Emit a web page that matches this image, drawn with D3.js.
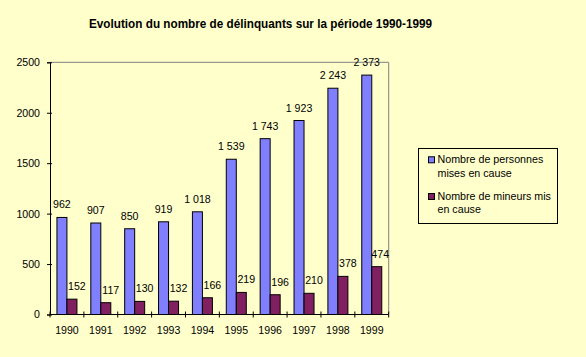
<!DOCTYPE html>
<html>
<head>
<meta charset="utf-8">
<script src="https://cdn.jsdelivr.net/npm/d3@7/dist/d3.min.js"></script>
<style>
html,body{margin:0;padding:0;background:#FFFFCC;}
svg{display:block;}
text{font-family:"Liberation Sans",Arial,sans-serif;fill:#000;}
</style>
</head>
<body>
<svg id="chart" width="586" height="357"></svg>
<script>
const title = "Evolution du nombre de délinquants sur la période 1990-1999";
const categories = ["1990","1991","1992","1993","1994","1995","1996","1997","1998","1999"];
const personnes = [962,907,850,919,1018,1539,1743,1923,2243,2373];
const mineurs = [152,117,130,132,166,219,196,210,378,474];
const seriesNames = [["Nombre de personnes","mises en cause"],["Nombre de mineurs mis","en cause"]];
const yTicks = [0,500,1000,1500,2000,2500];
const colors = ["#8080FF","#802060"];

const svg = d3.select("#chart");
svg.append("rect").attr("width",586).attr("height",357).attr("fill","#FFFFCC");

const L=50, R=388.7, T=62.3, B=314.5;
const x = d3.scaleBand().domain(categories).range([L,R]).paddingInner(0).paddingOuter(0);
const y = d3.scaleLinear().domain([0,2500]).range([B,T]);
const barW = 10;
const fmt = d3.formatLocale({decimal:",",thousands:"\u00a0",grouping:[3],currency:["","€"]}).format(",d");

// title
svg.append("text").attr("x",260.5).attr("y",27.5).attr("text-anchor","middle")
  .style("font-weight","bold").style("font-size","12.5px")
  .attr("textLength",343).attr("lengthAdjust","spacingAndGlyphs").text(title);

// plot border top/right gray
svg.append("path").attr("d",`M${L},${T}H${R}V${B}`).attr("fill","none").attr("stroke","#808080").attr("stroke-width",1);

// bars
const data = categories.map((c,i)=>({c, v:[personnes[i], mineurs[i]]}));
const g = svg.append("g");
data.forEach(d=>{
  const cx = x(d.c) + x.bandwidth()/2;
  d.v.forEach((v,j)=>{
    const x0 = cx - barW + j*barW;
    g.append("rect").attr("x",x0).attr("y",y(v)).attr("width",barW).attr("height",y(0)-y(v))
      .attr("fill",colors[j]).attr("stroke","#000").attr("stroke-width",1);
    const lx = x0 + barW/2 + (j===1 ? 5 : 0);
    g.append("text").attr("x", Math.min(lx, R-8.5)).attr("y", y(v)-9).attr("text-anchor","middle")
      .style("font-size","10.6px").text(fmt(v));
  });
});

// y axis
const yAxis = d3.axisLeft(y).tickValues(yTicks).tickSize(3).tickPadding(7).tickFormat(d3.format("d"));
const ya = svg.append("g").attr("transform",`translate(${L},0)`).call(yAxis);
ya.select(".domain").attr("stroke","#000");
ya.selectAll(".tick line").attr("x2",-3).attr("x1",2).attr("stroke","#000");
ya.selectAll("text").style("font-size","10.6px").style("font-family","'Liberation Sans',Arial,sans-serif").attr("fill","#000");

// x axis
const xa = svg.append("g").attr("transform",`translate(0,${B})`);
xa.append("line").attr("x1",L).attr("x2",R).attr("stroke","#000");
const bounds = categories.map(c=>x(c)).concat([R]);
xa.selectAll("line.tk").data(bounds).enter().append("line").attr("class","tk")
  .attr("x1",d=>d).attr("x2",d=>d).attr("y1",-3).attr("y2",3).attr("stroke","#000");
xa.selectAll("text").data(categories).enter().append("text")
  .attr("x",d=>x(d)+x.bandwidth()/2).attr("y",19.5).attr("text-anchor","middle")
  .style("font-size","10.6px").text(d=>d);

// legend
const lg = svg.append("g");
lg.append("rect").attr("x",418.5).attr("y",148.5).attr("width",139).attr("height",75)
  .attr("fill","#FFFFCC").attr("stroke","#000").attr("stroke-width",1);
seriesNames.forEach((lines,i)=>{
  const y0 = 163.3 + i*36.7;
  lg.append("rect").attr("x",428.5).attr("y",y0-6.5).attr("width",6).attr("height",6)
    .attr("fill",colors[i]).attr("stroke","#000").attr("stroke-width",1);
  lines.forEach((t,k)=>{
    lg.append("text").attr("x",437.5).attr("y",y0+k*13.4).style("font-size","10.7px").text(t);
  });
});
</script>
</body>
</html>
